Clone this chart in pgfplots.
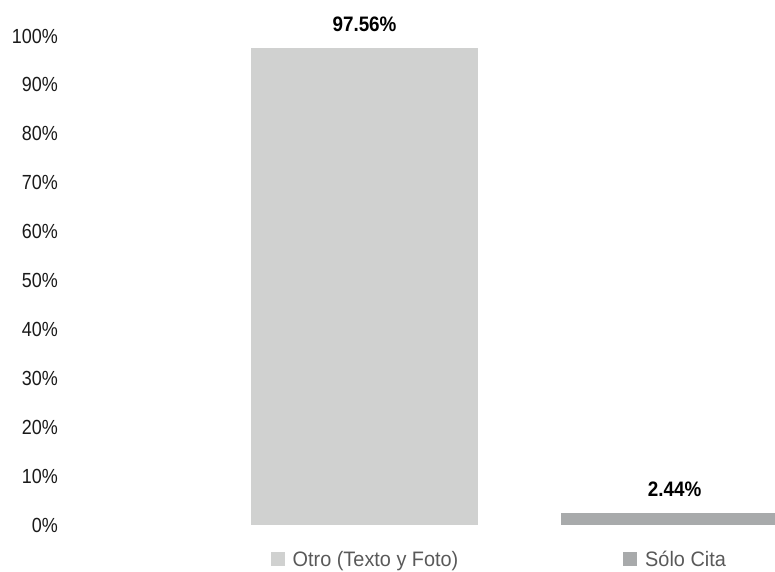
\documentclass[border=0pt]{standalone}
\usepackage{pgfplots}
\pgfplotsset{compat=1.18}
\usepackage{fontspec}
\setmainfont{Liberation Sans}
\newfontfamily\tickfont{Liberation Sans}[FakeStretch=0.88]
\newfontfamily\legfont{Liberation Sans}[FakeStretch=0.95]
\newfontfamily\valfont{Liberation Sans}[FakeStretch=0.9]
\definecolor{barA}{HTML}{D0D1D0}
\definecolor{barB}{HTML}{A8AAAB}
\definecolor{legtxt}{HTML}{595959}
\definecolor{ticktxt}{HTML}{1A1A1A}
\begin{document}
\begin{tikzpicture}
\begin{axis}[
  at={(70bp,47bp)}, anchor=south west,
  scale only axis, width=705bp, height=489bp,
  xmin=-0.95, xmax=1.324, ymin=0, ymax=100,
  axis line style={draw=none},
  tick style={draw=none}, major tick length=0pt,
  ytick={0,10,...,100},
  yticklabel={\pgfmathprintnumber{\tick}\%},
  /pgf/number format/assume math mode=true,
  yticklabel style={font=\tickfont\fontsize{20.5}{22}\selectfont, text=ticktxt, anchor=east, inner sep=0pt, xshift=-12bp},
  xtick={0,1},
  xticklabels={{\textcolor{barA}{\rule{14bp}{14bp}}\hspace{8bp}Otro (Texto y Foto)},{\textcolor{barB}{\rule{14bp}{14bp}}\hspace{8bp}Sólo Cita}},
  xticklabel style={font=\legfont\fontsize{21}{23}\selectfont, text=legtxt, anchor=base, inner sep=0pt, yshift=-41bp},
  ybar, bar width=227bp,
  nodes near coords={\pgfmathprintnumber[fixed,precision=2,fixed zerofill]{\pgfplotspointmeta}\%},
  nodes near coords style={font=\valfont\fontsize{21}{23}\selectfont\bfseries, text=black, anchor=south, inner sep=0pt, yshift=16bp},
]
\addplot[fill=barA, draw=none, bar shift=0pt] coordinates {(0,97.56)};
\addplot[fill=barB, draw=none, bar shift=0pt] coordinates {(1,2.44)};
\end{axis}
\pgfresetboundingbox
\useasboundingbox (0,0) rectangle (775bp,572bp);
\end{tikzpicture}
\end{document}
